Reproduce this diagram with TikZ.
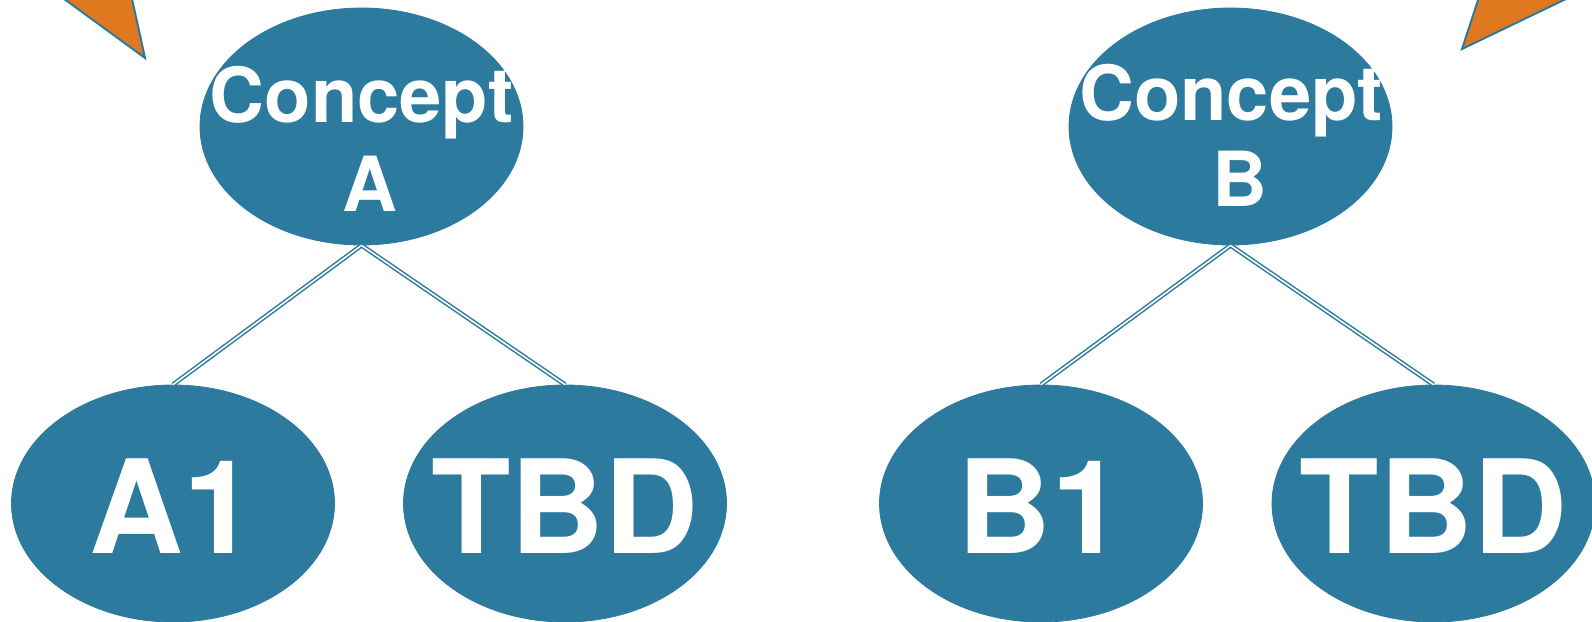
\documentclass[tikz,border=0pt]{standalone}
\usepackage{fontspec}
\setmainfont{TeX Gyre Heros}
\usetikzlibrary{shapes.geometric}
\definecolor{cblue}{RGB}{44,123,159}
\definecolor{corange}{RGB}{224,120,32}
\tikzset{
  bubble/.style={ellipse, fill=cblue, draw=cblue, line width=0.8pt, minimum width=323pt, minimum height=237pt, inner sep=0pt},
  bigtxt/.style={text=white, font=\bfseries\fontsize{130}{130}\selectfont, inner sep=0pt, anchor=base},
  cptxt/.style={text=white, font=\bfseries\fontsize{76}{76}\selectfont, inner sep=0pt, anchor=base},
  link/.style={draw=cblue, line width=1.5pt, double=white, double distance=1.6pt},
  pointer/.style={fill=corange, draw=cblue, line width=2pt, line join=miter}
}
\begin{document}
\begin{tikzpicture}[x=1pt,y=-1pt]
\useasboundingbox (0,0) rectangle (1592,621);
\clip (0,0) rectangle (1592,621);
% orange pointers
\draw[pointer] (45,-15) -- (145,58) -- (129,-15);
\draw[pointer] (1483,-15) -- (1462,49) -- (1595,-15);
% ellipses
\node[bubble] (ca) at (361.5,126.5) {};
\node[bubble] (cb) at (1230.5,126.5) {};
\node[bubble] (a1) at (173,503.5) {};
\node[bubble] (ta) at (565,503.5) {};
\node[bubble] (b1) at (1041,503.5) {};
\node[bubble] (tb) at (1433.5,503.5) {};
% connectors
\draw[link] (ca.south) -- (a1.north);
\draw[link] (ca.south) -- (ta.north);
\draw[link] (cb.south) -- (b1.north);
\draw[link] (cb.south) -- (tb.north);
% texts
\node[cptxt] (ca1) at (361.5,122) {Concept};
\node[cptxt] (ca2) at (370,211) {A};
\node[cptxt] (cb1) at (1231,120) {Concept};
\node[cptxt] (cb2) at (1240,206) {B};
\node[bigtxt] (a1t) at (173,553) {A1};
\node[bigtxt] (tat) at (565,553) {TBD};
\node[bigtxt] (b1t) at (1041,553) {B1};
\node[bigtxt] (tbt) at (1433.5,553) {TBD};
\end{tikzpicture}
\end{document}
